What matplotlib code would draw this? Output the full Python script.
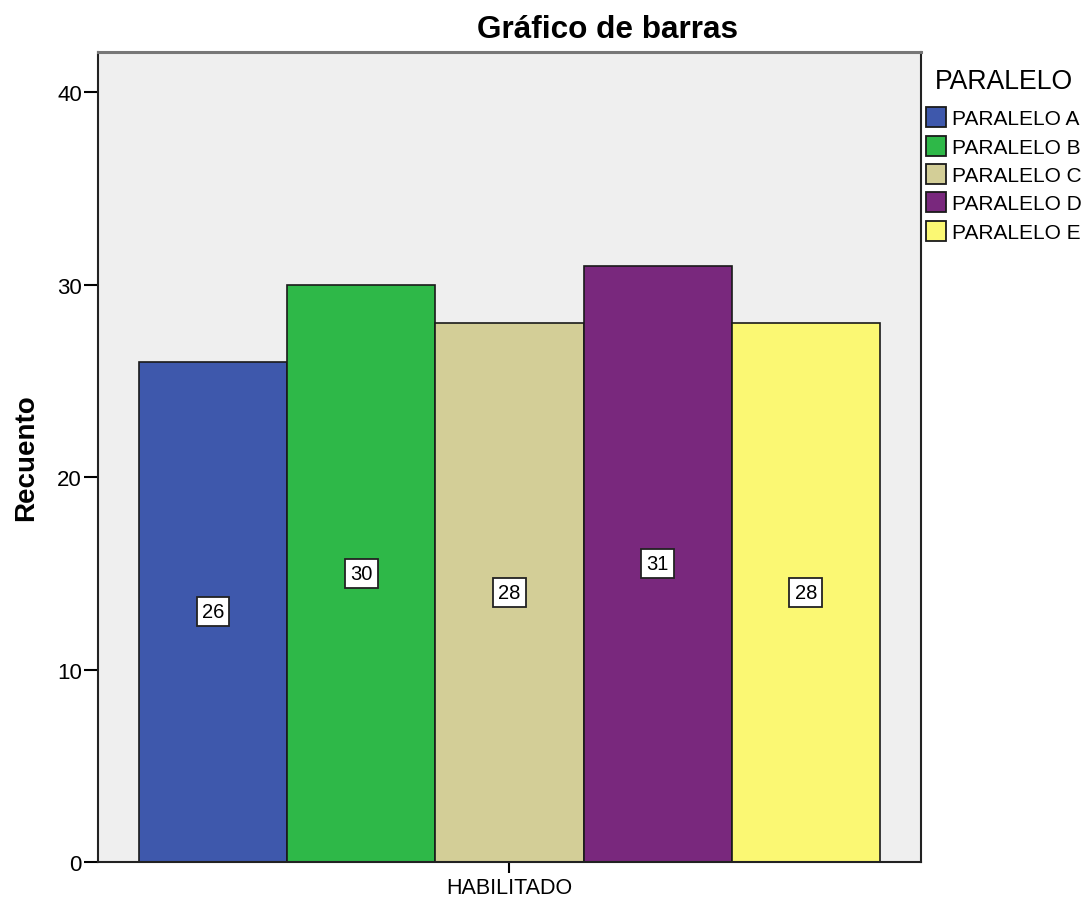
import numpy as np
import matplotlib
matplotlib.use("Agg")
import matplotlib.pyplot as plt

plt.rcParams['font.family'] = ['Liberation Sans', 'DejaVu Sans']

paralelos = ["PARALELO A", "PARALELO B", "PARALELO C", "PARALELO D", "PARALELO E"]
recuento = [26, 30, 28, 31, 28]
colores = ["#3E58AC", "#2EB848", "#D3CE97", "#79287D", "#FBF873"]
categoria = "HABILITADO"

fig = plt.figure(figsize=(10.86, 9.03), dpi=100)
ax = fig.add_axes([0.0902, 0.0443, 0.7578, 0.897])
ax.set_facecolor("#EFEFEF")

ancho = 0.18
n = len(paralelos)
posiciones = (np.arange(n) - (n - 1) / 2) * ancho

for x, v, c, nombre in zip(posiciones, recuento, colores, paralelos):
    ax.bar(x, v, width=ancho, color=c, edgecolor="#1a1a1a", linewidth=1.2, label=nombre, zorder=2)
    # etiqueta con el valor a media altura de la barra
    ax.text(x, v / 2, str(v), ha="center", va="center", fontsize=14.5, zorder=3,
            bbox=dict(boxstyle="square,pad=0.25", facecolor="white", edgecolor="#222222", linewidth=1.3))

ax.set_xlim(-0.5, 0.5)
ax.set_ylim(0, 42.1)
ax.set_yticks([0, 10, 20, 30, 40])
ax.set_xticks([0])
ax.set_xticklabels([categoria], fontsize=15.5)
ax.tick_params(axis="y", labelsize=16, length=10, width=1.5, pad=1.5)
ax.tick_params(axis="x", length=8, width=1.5, pad=3)
for s in ax.spines.values():
    s.set_linewidth(1.5)
    s.set_color("#222222")
ax.spines["top"].set_color("#777777")
ax.spines["top"].set_linewidth(2.2)

ax.set_ylabel("Recuento", fontsize=20, fontweight="bold", labelpad=13)
fig.text(0.559, 0.958, "Gráfico de barras", ha="center", va="baseline",
         fontsize=22.7, fontweight="bold")

leg = ax.legend(loc="upper left", bbox_to_anchor=(1.002, 0.984), frameon=False,
                title="PARALELO", fontsize=15, title_fontsize=19.2,
                handlelength=0.96, handleheight=1.1, handletextpad=0.29,
                labelspacing=0.35, borderaxespad=0, borderpad=0.15)
for h in leg.legend_handles:
    h.set_linewidth(1.3)
# más separación entre el título de la leyenda y las entradas
leg._legend_box.sep = 9.5

fig.savefig("out.png", dpi=100)
